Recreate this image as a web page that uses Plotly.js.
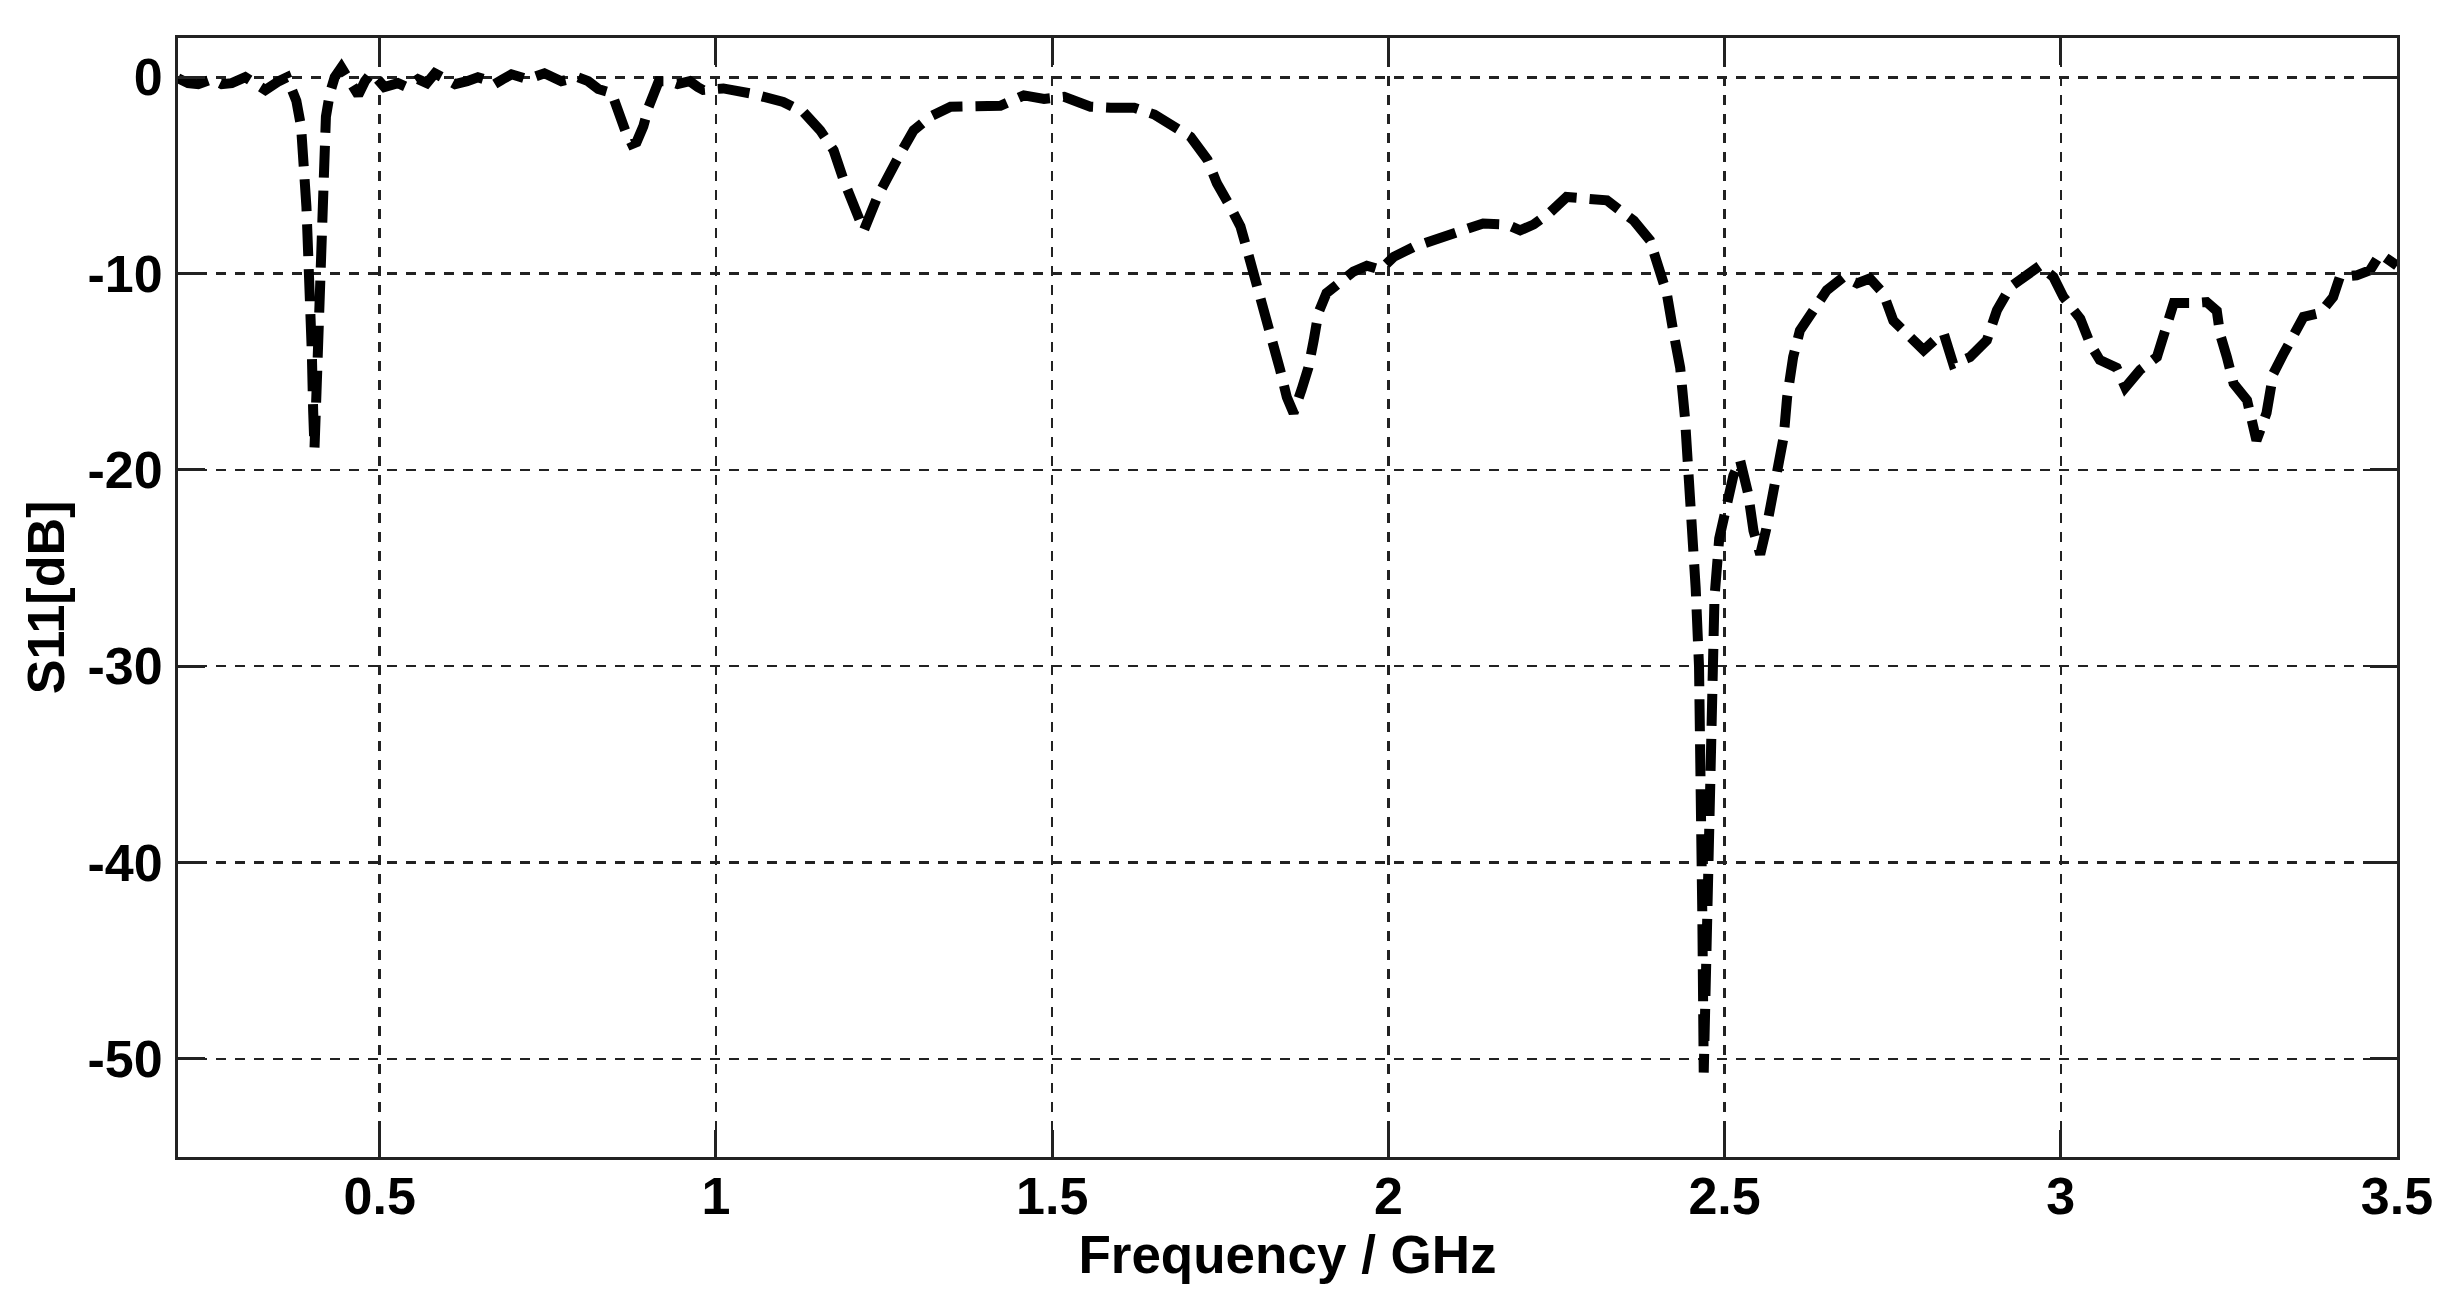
<!DOCTYPE html>
<html>
<head>
<meta charset="utf-8">
<script src="https://cdn.plot.ly/plotly-3.0.1.min.js"></script>
<style>
  html, body { margin: 0; padding: 0; background: #fff; }
  #plot { width: 2462px; height: 1301px; }
</style>
</head>
<body>
<div id="plot"></div>
<script>
// Частота, ГГц
const freqGHz = [
  0.200, 0.215, 0.230, 0.250, 0.265, 0.280, 0.300, 0.315, 0.330, 0.350,
  0.362, 0.376, 0.383, 0.391, 0.396, 0.399, 0.401, 0.403, 0.406, 0.409,
  0.411, 0.414, 0.416, 0.420, 0.426, 0.433, 0.443, 0.455, 0.468, 0.478,
  0.487, 0.497, 0.507, 0.527, 0.540, 0.557, 0.570, 0.582, 0.597, 0.612,
  0.630, 0.646, 0.660, 0.671, 0.683, 0.696, 0.720, 0.745, 0.770, 0.795,
  0.810, 0.825, 0.845, 0.855, 0.865, 0.875, 0.882, 0.892, 0.900, 0.915,
  0.930, 0.943, 0.961, 0.973, 0.981, 1.011, 1.051, 1.100, 1.130, 1.155,
  1.175, 1.190, 1.205, 1.220, 1.240, 1.254, 1.274, 1.294, 1.319, 1.349,
  1.398, 1.423, 1.458, 1.488, 1.518, 1.557, 1.587, 1.622, 1.652, 1.681,
  1.706, 1.731, 1.745, 1.765, 1.780, 1.790, 1.800, 1.812, 1.822, 1.832,
  1.839, 1.849, 1.859, 1.871, 1.881, 1.889, 1.896, 1.908, 1.928, 1.948,
  1.968, 1.988, 2.008, 2.037, 2.067, 2.107, 2.141, 2.176, 2.196, 2.216,
  2.240, 2.265, 2.290, 2.325, 2.345, 2.365, 2.389, 2.404, 2.414, 2.424,
  2.434, 2.441, 2.446, 2.452, 2.457, 2.462, 2.465, 2.467, 2.469, 2.472,
  2.476, 2.480, 2.485, 2.492, 2.503, 2.513, 2.523, 2.535, 2.543, 2.553,
  2.562, 2.570, 2.578, 2.588, 2.593, 2.602, 2.612, 2.632, 2.652, 2.677,
  2.697, 2.716, 2.736, 2.751, 2.776, 2.796, 2.812, 2.826, 2.840, 2.865,
  2.890, 2.905, 2.925, 2.949, 2.969, 2.989, 3.004, 3.029, 3.044, 3.058,
  3.083, 3.096, 3.118, 3.143, 3.158, 3.168, 3.197, 3.217, 3.232, 3.237,
  3.247, 3.257, 3.277, 3.291, 3.306, 3.316, 3.331, 3.346, 3.361, 3.386,
  3.405, 3.415, 3.440, 3.460, 3.475, 3.500
];

// S11, дБ
const s11dB = [
  -0.05, -0.3, -0.35, -0.1, -0.35, -0.3, 0.0, -0.3, -0.65, -0.2,
  0.0, -1.2, -2.5, -6.6, -10.0, -14.0, -17.0, -18.9, -16.0, -13.0,
  -10.0, -7.0, -4.5, -2.0, -0.8, 0.0, 0.5, -0.3, -0.9, -0.2,
  0.2, -0.1, -0.5, -0.3, -0.5, -0.1, -0.3, 0.2, -0.1, -0.35,
  -0.2, 0.0, -0.15, -0.35, -0.1, 0.15, -0.1, 0.2, -0.2, 0.0,
  -0.2, -0.6, -0.8, -1.8, -2.7, -3.4, -3.3, -2.5, -1.5, -0.2,
  -0.2, -0.35, -0.2, -0.5, -0.65, -0.57, -0.82, -1.26, -1.77, -2.7,
  -3.72, -5.25, -6.6, -7.8, -6.1, -5.08, -3.9, -2.7, -2.0, -1.5,
  -1.5, -1.45, -0.92, -1.1, -1.0, -1.5, -1.55, -1.55, -1.9, -2.45,
  -3.04, -4.2, -5.4, -6.6, -7.6, -8.8, -10.0, -11.2, -12.4, -13.7,
  -14.9, -16.3, -17.1, -15.9, -14.8, -13.4, -12.0, -11.0, -10.4, -9.9,
  -9.6, -9.8, -9.15, -8.65, -8.3, -7.8, -7.45, -7.5, -7.8, -7.5,
  -6.9, -6.1, -6.2, -6.27, -6.8, -7.3, -8.3, -10.0, -11.0, -13.0,
  -14.8, -17.3, -19.85, -23.0, -26.0, -30.0, -35.0, -43.0, -50.7, -45.0,
  -38.0, -31.0, -26.5, -23.5, -21.9, -20.3, -19.5, -21.2, -23.1, -24.3,
  -23.0, -21.4, -19.7, -18.3, -16.3, -14.25, -12.9, -11.87, -10.85, -10.17,
  -10.5, -10.25, -11.0, -12.4, -13.2, -13.9, -13.4, -13.06, -14.6, -14.25,
  -13.4, -11.87, -10.68, -10.17, -9.6, -10.17, -11.2, -12.3, -13.6, -14.4,
  -14.8, -15.8, -14.9, -14.25, -12.7, -11.5, -11.5, -11.45, -11.9, -13.1,
  -14.25, -15.6, -16.45, -18.5, -17.1, -15.1, -14.1, -13.2, -12.2, -12.0,
  -11.2, -10.17, -10.09, -9.83, -9.0, -9.6
];

// Подписи осей
const xTickVals = [0.5, 1, 1.5, 2, 2.5, 3, 3.5];
const xTickText = ['0.5', '1', '1.5', '2', '2.5', '3', '3.5'];
const yTickVals = [-50, -40, -30, -20, -10, 0];
const yTickText = ['-50', '-40', '-30', '-20', '-10', '0'];

const trace = {
    x: freqGHz,
    y: s11dB,
    type: 'scatter',
    mode: 'lines',
    line: { color: '#000', width: 10, dash: '32px,13px' },
    hoverinfo: 'skip'
};

const axisStyle = {
    showline: true,
    linecolor: '#222',
    linewidth: 3,
    mirror: 'ticks',
    ticks: 'inside',
    ticklen: 27,
    tickwidth: 3,
    tickcolor: '#222',
    showgrid: true,
    gridcolor: '#222',
    gridwidth: 2.5,
    griddash: '10px,9px',
    zeroline: false
};

const layout = {
    width: 2462,
    height: 1301,
    margin: { l: 178, r: 65, t: 38, b: 144 },
    paper_bgcolor: '#fff',
    plot_bgcolor: '#fff',
    showlegend: false,
    font: { family: 'Liberation Sans, Arial, sans-serif', size: 52, color: '#000', weight: 'bold' },
    xaxis: Object.assign({}, axisStyle, {
        range: [0.2, 3.5],
        tickmode: 'array',
        tickvals: xTickVals,
        ticktext: xTickText,
        tickfont: { size: 52, weight: 'bold' },
        ticklabelstandoff: -8,
        title: { text: 'Frequency / GHz', font: { size: 53, weight: 'bold' }, standoff: 0 }
    }),
    yaxis: Object.assign({}, axisStyle, {
        range: [-55, 2],
        tickmode: 'array',
        tickvals: yTickVals,
        ticktext: yTickText,
        tickfont: { size: 52, weight: 'bold' },
        ticklabelstandoff: 2,
        title: { text: 'S11[dB]', font: { size: 52, weight: 'bold' }, standoff: 7 }
    })
};

Plotly.newPlot('plot', [trace], layout, { staticPlot: true, displayModeBar: false });
</script>
</body>
</html>
